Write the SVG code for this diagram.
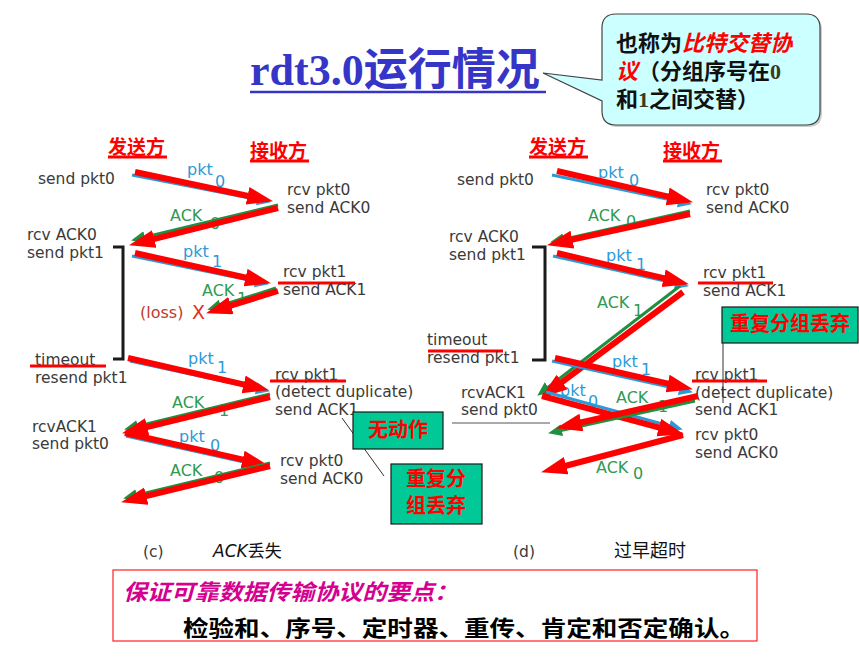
<svg xmlns="http://www.w3.org/2000/svg" width="859" height="661" viewBox="0 0 859 661">
  <style>
    .t { font-family: "DejaVu Sans", "Liberation Sans", sans-serif; font-size: 15.5px; fill: #3a3a3a; }
    .pk { font-family: "DejaVu Sans", sans-serif; font-size: 16px; fill: #2b9ad6; }
    .ak { font-family: "DejaVu Sans", sans-serif; font-size: 16px; fill: #2f9a50; }
    .hd { font-family: "Noto Sans CJK SC", sans-serif; font-weight: 700; font-size: 19px; fill: #ff0000; }
    .cb { font-family: "Liberation Serif", "Noto Sans CJK SC", serif; font-weight: 700; font-size: 22px; fill: #111; }
    .ci { fill: #ff0000; font-style: italic; }
    .bx { fill: #00c896; stroke: #1a1a1a; stroke-width: 1.2; }
    .bt { font-family: "Noto Sans CJK SC", sans-serif; font-weight: 700; font-size: 20px; fill: #ff0000; }
    .red { stroke: #ff0000; stroke-width: 6; fill: none; }
    .blu { stroke: #2b9ad6; stroke-width: 3; fill: none; }
    .grn { stroke: #1f9040; stroke-width: 3; fill: none; }
    .ul { stroke: #ff0000; stroke-width: 3; }
    .br { stroke: #1a1a1a; stroke-width: 3; fill: none; }
    .thin { stroke: #333; stroke-width: 1; fill: none; }
  </style>
  <defs>
    <marker id="rh" markerUnits="userSpaceOnUse" markerWidth="28" markerHeight="20" refX="13" refY="9" orient="auto">
      <path d="M0,0 L26,9 L0,18 Z" fill="#ff0000"/>
    </marker>
    <marker id="bh" markerUnits="userSpaceOnUse" markerWidth="16" markerHeight="14" refX="8" refY="6" orient="auto">
      <path d="M0,0 L14,6 L0,12 Z" fill="#2b9ad6"/>
    </marker>
    <marker id="gh" markerUnits="userSpaceOnUse" markerWidth="16" markerHeight="14" refX="8" refY="6" orient="auto">
      <path d="M0,0 L14,6 L0,12 Z" fill="#1f9040"/>
    </marker>
  </defs>

  <rect width="859" height="661" fill="#ffffff"/>

  <!-- title -->
  <g id="title">
    <text x="250" y="85" font-size="44" font-weight="700" fill="#3535c8"><tspan font-family="Liberation Serif, serif">rdt3.0</tspan><tspan font-family="Noto Sans CJK SC, sans-serif">运行情况</tspan></text>
    <line x1="250" y1="92" x2="546" y2="92" stroke="#3535c8" stroke-width="2.5"/>
  </g>

  <!-- callout bubble -->
  <g id="callout">
    <path d="M618,16 H808 Q822,16 822,30 V113 Q822,127 808,127 H618 Q604,127 604,113 V102 L545,74 L604,81 V30 Q604,16 618,16 Z" fill="#999" opacity="0.5"/>
    <path d="M616,14 H806 Q820,14 820,28 V111 Q820,125 806,125 H616 Q602,125 602,111 V101 L543,73 L602,80 V28 Q602,14 616,14 Z" fill="#ccffff" stroke="#444" stroke-width="1.2"/>
    <text class="cb" x="616" y="51">也称为<tspan class="ci">比特交替协</tspan></text>
    <text class="cb" x="616" y="79"><tspan class="ci">议</tspan>（分组序号在<tspan fill="#3a3a1a">0</tspan></text>
    <text class="cb" x="616" y="107">和<tspan fill="#3a3a1a">1</tspan>之间交替）</text>
  </g>

  <!-- headings -->
  <g id="left-heads">
    <text class="hd" x="108" y="154">发送方</text>
    <line class="ul" x1="108" y1="157" x2="167" y2="157" stroke-width="2"/>
    <text class="hd" x="250" y="158">接收方</text>
    <line class="ul" x1="250" y1="161" x2="309" y2="161" stroke-width="2"/>
  </g>
  <g id="right-heads">
    <text class="hd" x="529" y="154">发送方</text>
    <line class="ul" x1="529" y1="157" x2="588" y2="157" stroke-width="2"/>
    <text class="hd" x="663" y="158">接收方</text>
    <line class="ul" x1="663" y1="161" x2="722" y2="161" stroke-width="2"/>
  </g>

  <!-- left scenario: ACK loss -->
  <g id="left-sender">
    <text class="t" x="38" y="184">send pkt0</text>
    <text class="t" x="27" y="240">rcv ACK0</text>
    <text class="t" x="27" y="258">send pkt1</text>
    <text class="t" x="35" y="365">timeout</text>
    <line class="ul" x1="30" y1="366" x2="106" y2="366"/>
    <text class="t" x="35" y="383">resend pkt1</text>
    <text class="t" x="32" y="432">rcvACK1</text>
    <text class="t" x="32" y="449">send pkt0</text>
    <path class="br" d="M113,247 H123 V359 H113"/>
  </g>
  <g id="left-receiver">
    <text class="t" x="287" y="195">rcv pkt0</text>
    <text class="t" x="287" y="213">send ACK0</text>
    <text class="t" x="283" y="277">rcv pkt1</text>
    <line class="ul" x1="278" y1="283" x2="355" y2="283"/>
    <text class="t" x="283" y="295">send ACK1</text>
    <text class="t" x="275" y="380">rcv pkt1</text>
    <line class="ul" x1="270" y1="381" x2="346" y2="381"/>
    <text class="t" x="275" y="397">(detect duplicate)</text>
    <text class="t" x="275" y="415">send ACK1</text>
    <text class="t" x="280" y="466">rcv pkt0</text>
    <text class="t" x="280" y="484">send ACK0</text>
  </g>
  <g id="left-loss">
    <text x="140" y="318" font-family="DejaVu Sans, sans-serif" font-size="16" fill="#c0392b">(loss)</text>
    <text x="192" y="319" font-family="DejaVu Sans, sans-serif" font-size="19" fill="#e03020">X</text>
  </g>

  <!-- right scenario: premature timeout -->
  <g id="right-sender">
    <text class="t" x="457" y="185">send pkt0</text>
    <text class="t" x="449" y="242">rcv ACK0</text>
    <text class="t" x="449" y="260">send pkt1</text>
    <text class="t" x="427" y="345">timeout</text>
    <line class="ul" x1="428" y1="351" x2="503" y2="351"/>
    <text class="t" x="427" y="363">resend pkt1</text>
    <text class="t" x="461" y="398">rcvACK1</text>
    <text class="t" x="461" y="415">send pkt0</text>
    <path class="br" d="M532,247 H545 V360 H532"/>
  </g>
  <g id="right-receiver">
    <text class="t" x="706" y="195">rcv pkt0</text>
    <text class="t" x="706" y="213">send ACK0</text>
    <text class="t" x="703" y="278">rcv pkt1</text>
    <line class="ul" x1="698" y1="283" x2="773" y2="283"/>
    <text class="t" x="703" y="296">send ACK1</text>
    <text class="t" x="695" y="380">rcv pkt1</text>
    <line class="ul" x1="692" y1="381" x2="767" y2="381"/>
    <text class="t" x="695" y="398">(detect duplicate)</text>
    <text class="t" x="695" y="415">send ACK1</text>
    <text class="t" x="695" y="440">rcv pkt0</text>
    <text class="t" x="695" y="458">send ACK0</text>
  </g>

  <!-- message labels -->
  <g id="labels">
    <text class="pk" x="187" y="175">pkt</text><text class="pk" x="215" y="187">0</text>
    <text class="ak" x="170" y="221">ACK</text><text class="ak" x="210" y="229">0</text>
    <text class="pk" x="183" y="257">pkt</text><text class="pk" x="212" y="267">1</text>
    <text class="ak" x="202" y="296">ACK</text><text class="ak" x="237" y="304">1</text>
    <text class="pk" x="188" y="364">pkt</text><text class="pk" x="217" y="373">1</text>
    <text class="ak" x="172" y="408">ACK</text><text class="ak" x="219" y="416">1</text>
    <text class="pk" x="179" y="442">pkt</text><text class="pk" x="210" y="451">0</text>
    <text class="ak" x="170" y="476">ACK</text><text class="ak" x="214" y="483">0</text>

    <text class="pk" x="598" y="178">pkt</text><text class="pk" x="629" y="186">0</text>
    <text class="ak" x="588" y="221">ACK</text><text class="ak" x="626" y="227">0</text>
    <text class="pk" x="606" y="261">pkt</text><text class="pk" x="636" y="270">1</text>
    <text class="ak" x="597" y="308">ACK</text><text class="ak" x="633" y="316">1</text>
    <text class="pk" x="612" y="367">pkt</text><text class="pk" x="641" y="375">1</text>
    <text class="pk" x="560" y="396">pkt</text><text class="pk" x="588" y="407">0</text>
    <text class="ak" x="616" y="403">ACK</text><text class="ak" x="658" y="412">1</text>
    <text class="ak" x="596" y="473">ACK</text><text class="ak" x="633" y="479">0</text>
  </g>

  <!-- message arrows -->
  <g id="connectors">
    <!-- left -->
    <line class="blu" x1="132" y1="175" x2="265" y2="201" marker-end="url(#bh)"/>
    <line class="red" x1="135" y1="172" x2="260.3" y2="198.5" marker-end="url(#rh)"/>
    <line class="grn" x1="278" y1="205" x2="137" y2="239" marker-end="url(#gh)"/>
    <line class="red" x1="278" y1="208" x2="141.6" y2="242.1" marker-end="url(#rh)"/>
    <line class="blu" x1="132" y1="256" x2="263" y2="283" marker-end="url(#bh)"/>
    <line class="red" x1="135" y1="253" x2="258.3" y2="280.4" marker-end="url(#rh)"/>
    <line class="grn" x1="276" y1="288" x2="213" y2="308" marker-end="url(#gh)"/>
    <line class="red" x1="278" y1="291" x2="218.5" y2="309.4" marker-end="url(#rh)"/>
    <line class="blu" x1="130" y1="361" x2="264" y2="390" marker-end="url(#bh)"/>
    <line class="red" x1="128" y1="358" x2="256.3" y2="387.3" marker-end="url(#rh)"/>
    <line class="grn" x1="270" y1="394" x2="130" y2="428" marker-end="url(#gh)"/>
    <line class="red" x1="270" y1="397" x2="134.6" y2="430.1" marker-end="url(#rh)"/>
    <line class="blu" x1="126" y1="436" x2="262" y2="466" marker-end="url(#bh)"/>
    <line class="red" x1="125" y1="433" x2="255.3" y2="462.4" marker-end="url(#rh)"/>
    <line class="grn" x1="270" y1="463" x2="129" y2="497" marker-end="url(#gh)"/>
    <line class="red" x1="270" y1="466" x2="133.7" y2="499.2" marker-end="url(#rh)"/>

    <!-- right -->
    <line class="blu" x1="552" y1="175" x2="686" y2="203" marker-end="url(#bh)"/>
    <line class="red" x1="557" y1="171" x2="680.3" y2="199.3" marker-end="url(#rh)"/>
    <line class="grn" x1="690" y1="211" x2="556" y2="241" marker-end="url(#gh)"/>
    <line class="red" x1="690" y1="214" x2="559.7" y2="242.4" marker-end="url(#rh)"/>
    <line class="blu" x1="553" y1="256" x2="683" y2="285" marker-end="url(#bh)"/>
    <line class="red" x1="557" y1="253" x2="676.3" y2="281.2" marker-end="url(#rh)"/>
    <line class="grn" x1="680" y1="286" x2="542" y2="392" marker-end="url(#gh)"/>
    <line class="red" x1="683" y1="292" x2="551.6" y2="389.8" marker-end="url(#rh)"/>
    <line class="blu" x1="552" y1="361" x2="687" y2="391" marker-end="url(#bh)"/>
    <line class="red" x1="555" y1="358" x2="680.3" y2="386.4" marker-end="url(#rh)"/>
    <line class="blu" x1="546" y1="392" x2="677" y2="428" marker-end="url(#bh)"/>
    <line class="red" x1="542" y1="396" x2="671.4" y2="430.9" marker-end="url(#rh)"/>
    <line class="grn" x1="695" y1="401" x2="554" y2="432" marker-end="url(#gh)"/>
    <line class="red" x1="698" y1="396" x2="568.7" y2="425.3" marker-end="url(#rh)"/>
    <line class="red" x1="683" y1="435" x2="553.6" y2="469" marker-end="url(#rh)"/>

    <!-- note leaders -->
    <line class="thin" x1="342" y1="418" x2="384" y2="476"/>
    <line x1="452" y1="423" x2="550" y2="423" stroke="#555" stroke-width="1"/>
    <line class="thin" x1="723" y1="318" x2="723" y2="403" stroke="#111"/>
  </g>

  <!-- notes -->
  <g id="note-noaction">
    <rect class="bx" x="353" y="412" width="90" height="37"/>
    <text class="bt" x="398" y="437" text-anchor="middle">无动作</text>
  </g>
  <g id="note-discard-left">
    <rect class="bx" x="391" y="464" width="91" height="60"/>
    <text class="bt" x="436" y="486" text-anchor="middle" font-size="19">重复分</text>
    <text class="bt" x="436" y="513" text-anchor="middle" font-size="19">组丢弃</text>
  </g>
  <g id="note-discard-right">
    <rect class="bx" x="722" y="307" width="136" height="36"/>
    <text class="bt" x="790" y="331" text-anchor="middle">重复分组丢弃</text>
  </g>

  <!-- captions -->
  <g id="captions">
    <text class="t" x="143" y="557" font-size="16">(c)</text>
    <text x="213" y="557" font-size="17" fill="#111"><tspan font-family="DejaVu Sans, sans-serif" font-style="italic">ACK</tspan><tspan font-family="Noto Sans CJK SC, sans-serif">丢失</tspan></text>
    <text class="t" x="513" y="557" font-size="16">(d)</text>
    <text x="614" y="557" font-family="Noto Sans CJK SC, sans-serif" font-size="18" fill="#111">过早超时</text>
  </g>

  <!-- key points -->
  <g id="summary">
    <rect x="113" y="570" width="644" height="71" fill="#ffffff" stroke="#ff2020" stroke-width="1.2"/>
    <text x="123" y="600" font-family="Noto Sans CJK SC, sans-serif" font-weight="700" font-style="italic" font-size="22" fill="#d4008f" textLength="335" lengthAdjust="spacingAndGlyphs">保证可靠数据传输协议的要点：</text>
    <text x="183" y="636" font-family="Noto Sans CJK SC, sans-serif" font-weight="700" font-size="22" fill="#000" textLength="562" lengthAdjust="spacingAndGlyphs">检验和、序号、定时器、重传、肯定和否定确认。</text>
  </g>
</svg>
